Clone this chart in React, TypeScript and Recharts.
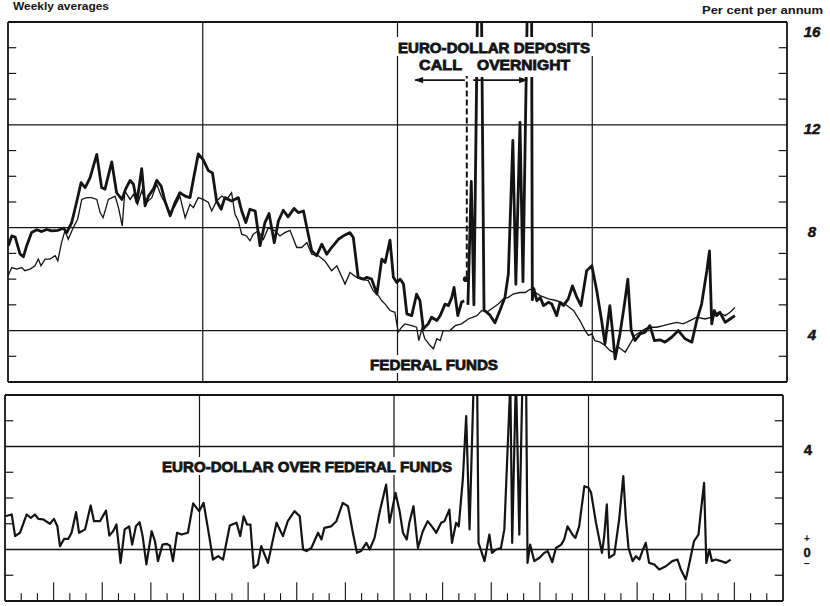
import React from 'react';
import { LineChart, Line, XAxis, YAxis, ReferenceLine, ReferenceDot } from 'recharts';

// x = week number from the start of the chart (4 years = 208 weeks), y = per cent per annum
const euroCall: [number, number][] = [
  [0.1, 7.3], [1.0, 7.68], [1.9, 7.64], [3.2, 6.98], [4.1, 6.87], [5.0, 7.3], [6.3, 7.81], [7.7, 7.92],
  [9.0, 7.85], [10.3, 7.93], [11.7, 7.88], [13.4, 7.9], [14.8, 7.98], [15.7, 7.81], [17.0, 8.2], [18.3, 8.98],
  [19.5, 9.75], [20.6, 9.56], [21.9, 9.94], [23.7, 10.85], [25.0, 9.56], [25.9, 9.5], [27.7, 10.56], [29.0, 9.36],
  [30.4, 9.1], [31.4, 9.5], [32.6, 9.84], [33.5, 9.69], [34.4, 8.98], [35.7, 10.3], [36.6, 8.85], [37.5, 9.23],
  [38.8, 9.5], [39.7, 9.84], [40.9, 9.62], [41.9, 9.04], [43.3, 8.46], [44.6, 8.98], [45.9, 9.36], [47.3, 9.23],
  [48.6, 9.17], [49.5, 9.88], [50.8, 10.87], [52.1, 10.65], [53.5, 10.22], [54.6, 10.13], [55.7, 9.04], [56.9, 8.72],
  [57.9, 9.17], [59.7, 9.04], [61.5, 9.17], [62.4, 8.65], [63.5, 8.2], [64.6, 8.72], [66.0, 8.65], [67.3, 7.3],
  [68.6, 8.2], [69.7, 8.55], [71.1, 7.42], [72.2, 8.26], [73.5, 8.68], [74.8, 8.42], [76.4, 8.75], [77.5, 8.59],
  [78.9, 8.65], [79.8, 8.0], [81.1, 7.1], [82.4, 6.91], [83.8, 7.36], [85.1, 6.97], [86.4, 7.23], [88.2, 7.55],
  [90.0, 7.72], [91.3, 7.81], [92.2, 7.62], [93.5, 6.07], [94.9, 6.0], [95.8, 6.07], [97.1, 6.0], [98.5, 5.42],
  [99.8, 6.78], [100.7, 6.65], [102.0, 7.52], [102.9, 6.07], [103.8, 5.87], [104.7, 6.0], [105.6, 5.81], [106.5, 4.65],
  [107.8, 4.58], [109.1, 5.42], [110.0, 5.16], [110.9, 4.07], [112.2, 4.26], [113.1, 4.52], [114.5, 4.39], [115.4, 4.58],
  [116.7, 5.03], [117.6, 4.97], [118.5, 5.29], [119.1, 5.68], [120.1, 4.58], [121.1, 5.1], [121.8, 5.16],
];

const euroOvernight: [number, number][] = [
  [122.8, 5.0], [123.7, 9.8], [124.4, 5.0], [125.4, 17], [126.4, 17], [127.1, 4.8], [128.7, 4.6], [130.0, 4.3],
  [131.4, 4.8], [132.7, 5.3], [133.6, 6.2], [134.8, 11.4], [135.6, 5.8], [136.7, 12.1], [137.5, 5.9], [138.7, 17],
  [139.8, 17], [140.0, 5.2], [140.4, 5.63], [141.2, 5.16], [142.1, 5.29], [143.0, 4.97], [144.3, 5.1], [145.2, 5.03],
  [146.5, 4.58], [147.4, 5.1], [148.3, 4.97], [149.6, 5.23], [150.7, 5.74], [151.9, 5.29], [153.0, 4.97], [154.5, 6.33],
  [155.9, 6.52], [157.2, 5.55], [158.5, 4.39], [159.4, 3.48], [160.7, 4.97], [161.4, 4.0], [162.1, 2.9], [163.4, 3.87],
  [164.6, 5.03], [165.5, 6.0], [166.4, 4.0], [167.4, 3.61], [168.8, 3.87], [170.1, 3.94], [171.4, 4.19], [172.6, 3.61],
  [174.1, 3.64], [175.4, 3.55], [177.2, 3.74], [179.0, 4.0], [180.8, 3.68], [182.6, 3.55], [183.9, 4.39], [185.2, 5.03],
  [186.6, 6.33], [187.3, 7.1], [187.9, 4.26], [188.6, 4.78], [189.2, 4.58], [190.1, 4.71], [191.5, 4.32], [192.8, 4.45],
  [194.1, 4.58],
];

const federalFunds: [number, number][] = [
  [0, 6.13], [1.0, 6.45], [2.3, 6.39], [3.7, 6.45], [4.5, 6.33], [5.9, 6.39], [7.2, 6.52], [8.1, 6.78],
  [8.8, 6.52], [9.9, 6.78], [11.2, 6.78], [12.6, 6.91], [13.3, 6.71], [14.3, 7.42], [15.2, 7.88], [16.1, 7.55],
  [17.4, 8.0], [18.6, 8.33], [19.7, 9.1], [21.0, 9.17], [22.3, 9.17], [23.7, 9.1], [24.6, 8.59], [25.4, 8.39],
  [26.8, 9.1], [28.6, 9.23], [29.5, 8.78], [30.5, 8.07], [31.2, 9.43], [32.6, 9.1], [33.5, 9.3], [34.6, 8.91],
  [35.7, 9.43], [37.0, 8.98], [38.4, 9.17], [39.7, 9.69], [40.9, 9.23], [41.9, 8.98], [43.3, 8.59], [44.6, 8.85],
  [45.9, 9.23], [47.3, 8.39], [48.6, 8.91], [49.5, 8.78], [50.8, 9.17], [52.1, 9.1], [53.5, 8.98], [54.4, 8.65],
  [55.7, 9.04], [57.1, 9.23], [58.4, 9.1], [59.7, 9.36], [60.6, 8.52], [61.5, 8.26], [62.4, 7.75], [63.7, 7.68],
  [64.6, 7.49], [65.5, 7.75], [66.8, 7.88], [68.2, 7.55], [69.5, 8.0], [71.3, 7.88], [72.6, 7.68], [73.9, 7.81],
  [75.3, 7.9], [77.1, 7.23], [78.4, 7.23], [79.8, 7.42], [81.1, 6.97], [82.9, 6.91], [84.6, 6.71], [86.4, 6.33],
  [87.8, 6.52], [90.0, 5.81], [91.3, 6.26], [93.1, 6.07], [94.4, 6.0], [96.2, 5.94], [97.5, 5.55], [98.9, 5.36],
  [99.8, 5.16], [100.7, 5.03], [102.0, 4.78], [103.3, 4.71], [104.2, 3.94], [105.1, 4.13], [106.0, 4.26], [107.8, 4.19],
  [109.1, 4.13], [109.7, 3.61], [110.5, 4.07], [111.3, 3.68], [112.7, 3.42], [113.6, 3.29], [114.5, 3.68], [115.4, 3.61],
  [116.2, 4.0], [118.0, 4.0], [119.4, 4.19], [121.1, 4.26], [122.9, 4.45], [125.2, 4.58], [126.5, 4.78], [127.8, 4.71],
  [129.6, 4.9], [130.9, 5.03], [132.3, 5.23], [133.6, 5.29], [134.9, 5.42], [136.7, 5.48], [138.1, 5.48], [139.4, 5.61],
  [142.1, 5.36], [144.3, 5.23], [146.5, 5.16], [148.7, 5.03], [151.0, 4.78], [152.7, 4.39], [154.1, 4.0], [155.0, 3.81],
  [155.9, 3.87], [156.7, 3.61], [158.1, 3.55], [159.4, 3.42], [160.7, 3.23], [161.6, 3.16], [163.0, 3.36], [164.8, 3.16],
  [166.1, 3.48], [167.4, 3.81], [168.8, 3.94], [170.1, 4.07], [171.4, 4.13], [173.2, 4.13], [175.0, 4.19], [176.8, 4.26],
  [178.6, 4.32], [180.3, 4.26], [182.1, 4.39], [183.9, 4.52], [186.1, 4.45], [187.9, 4.52], [189.7, 4.71], [191.5, 4.58],
  [192.8, 4.71], [194.1, 4.9],
];

const euroOverFed: [number, number][] = [
  [0, 1.29], [1.8, 1.36], [2.7, 0.52], [4.0, 0.65], [5.8, 1.36], [6.9, 1.23], [8.0, 1.36], [8.9, 1.19],
  [10.2, 1.17], [12.0, 1.0], [13.1, 1.19], [14.0, 0.9], [14.7, 0.13], [15.8, 0.41], [16.9, 0.41], [17.8, 0.65],
  [19.0, 1.45], [19.8, 0.65], [21.4, 0.78], [22.9, 1.71], [23.8, 1.1], [25.4, 1.1], [27.0, 1.51], [27.9, 0.54],
  [28.9, 0.71], [29.8, 0.97], [30.9, -0.52], [32.0, 0.78], [33.2, 0.9], [34.0, 0.19], [35.0, 0.9], [36.0, 1.06],
  [36.8, 0.52], [37.8, -0.58], [39.2, 0.71], [40.1, 0.32], [40.9, -0.45], [42.1, 0.19], [43.2, 0.22], [44.1, 0.15],
  [44.9, -0.45], [46.0, 0.65], [47.2, 0.58], [48.9, 0.65], [50.3, 1.79], [51.9, 1.49], [53.1, 1.81], [54.6, 0.52],
  [55.6, -0.39], [57.0, -0.26], [58.3, -0.39], [60.1, 0.93], [61.9, 1.04], [62.9, 0.52], [63.8, 1.29], [64.7, 0.97],
  [65.6, 0.97], [66.5, -0.71], [67.6, -0.58], [68.5, 0.13], [70.3, -0.52], [72.6, 1.04], [74.3, 0.52], [75.6, 1.1],
  [77.4, 1.49], [78.8, 1.29], [79.7, 0], [80.6, -0.06], [81.9, 0.06], [83.7, 0.65], [84.6, 0.39], [85.4, 0.84],
  [87.2, 0.9], [88.6, 1.1], [90.3, 1.81], [91.7, 1.68], [93.0, 0.65], [94.1, -0.13], [95.2, -0.06], [96.6, 0.26],
  [97.5, 0], [98.8, 0.45], [100.1, 1.42], [101.9, 2.52], [102.8, 1.04], [104.4, 2.2], [105.5, 1.49], [106.4, 0.65],
  [107.4, 0.39], [108.1, 1.04], [109.2, 1.68], [110.4, 0.06], [111.7, 0.71], [113.0, 1.1], [114.4, 0.84], [115.3, 0.65],
  [116.6, 1.04], [117.5, 1.1], [118.8, 1.55], [119.5, 0.26], [120.6, 1.04], [121.3, 0.9], [122.4, 2.72], [123.3, 5.18],
  [124.2, 0.78], [125.4, 7], [126.2, 7], [126.6, 0.26], [128.2, -0.45], [129.5, 0.58], [130.2, -0.13], [131.3, 0],
  [132.6, 0.06], [133.5, 0.78], [134.4, 4.0], [135.1, 6.5], [135.6, 0.26], [136.6, 6.8], [137.5, 0.58], [138.4, 7],
  [139.3, 7], [139.7, -0.52], [140.4, 0.19], [141.5, -0.45], [142.9, -0.32], [144.2, -0.13], [145.1, -0.06], [146.3, -0.49],
  [147.3, 0.06], [148.7, 0.19], [149.5, 0.39], [150.4, 0.9], [151.7, 0.58], [152.5, 0.45], [153.5, 0.9], [154.9, 2.46],
  [156.0, 2.4], [156.7, 2.2], [158.0, 1.04], [159.6, -0.13], [160.2, 0.52], [160.9, 1.75], [161.5, -0.32], [162.9, -0.19],
  [164.2, 1.17], [165.3, 2.85], [166.0, 1.17], [166.7, 0.06], [167.8, -0.45], [168.7, -0.26], [169.6, -0.39], [170.4, -0.06],
  [171.3, 0.26], [172.2, -0.52], [173.6, -0.58], [174.9, -0.78], [176.7, -0.65], [178.4, -0.45], [179.8, -0.39], [180.7, -0.78],
  [182.0, -1.17], [182.9, -0.58], [184.2, 0.32], [185.4, 0.58], [186.0, 1.42], [186.9, 2.59], [187.5, -0.52], [188.3, 0],
  [189.0, -0.45], [190.0, -0.39], [191.4, -0.45], [192.7, -0.52], [194.0, -0.39],
];

const topLabelTicks = [4, 8, 12, 16];
const topGridValues = [4, 8, 12];
const topMinorTicks = [3, 5, 6, 7, 9, 10, 11, 13, 14, 15];
const bottomLabelTicks = [0, 4];
const bottomGridValues = [0, 4];
const bottomMinorTicks = [-1, 1, 2, 3, 5];
const yearBoundaryWeeks = [52, 104, 156];
const monthsInChart = 48;
const TOTAL_WEEKS = 208;
const callSwitchWeek = 122.5;

const rows = (pts: [number, number][]) => pts.map(([w, v]) => ({ w, v }));

const INK = '#141414';
const FONT = '"Liberation Sans", Arial, Helvetica, sans-serif';

const TopTick = (props: any) => {
  const { x, y, payload } = props;
  const v = payload.value;
  return (
    <text x={x + 25} y={y + (v === 16 ? 15 : 9.5)} textAnchor="middle" fontFamily={FONT}
      fontSize={15} fontWeight={700} fill={INK} stroke={INK} strokeWidth={0.5} fontStyle="italic">
      {v}
    </text>
  );
};

const BottomTick = (props: any) => {
  const { x, y, payload } = props;
  const v = payload.value;
  if (v === 0) {
    return (
      <g fontFamily={FONT} fontWeight={700} fill={INK} textAnchor="middle">
        <text x={x + 24} y={y - 7.5} fontSize={10}>+</text>
        <text x={x + 24} y={y + 7} fontSize={13} stroke={INK} strokeWidth={0.4}>0</text>
        <text x={x + 24} y={y + 17.5} fontSize={10}>−</text>
      </g>
    );
  }
  return (
    <text x={x + 25} y={y + 8} textAnchor="middle" fontFamily={FONT} fontSize={15} fontWeight={700}
      fill={INK} stroke={INK} strokeWidth={0.5}>
      {v}
    </text>
  );
};

const edgeTickLen = 2.2; // weeks

const LeftArrowHead = (p: any) => (
  <polygon points={`${p.cx - 1},${p.cy} ${p.cx + 8},${p.cy - 3.2} ${p.cx + 8},${p.cy + 3.2}`} fill={INK} />
);
const RightArrowHead = (p: any) => (
  <polygon points={`${p.cx + 1},${p.cy} ${p.cx - 8},${p.cy - 3.2} ${p.cx - 8},${p.cy + 3.2}`} fill={INK} />
);

const bigLabel = {
  fontFamily: FONT,
  fontSize: 15,
  fontWeight: 700,
  fill: INK,
  stroke: INK,
  strokeWidth: 0.8,
  lengthAdjust: 'spacingAndGlyphs' as const,
};

export default function App() {
  const monthTickWeeks = Array.from({ length: monthsInChart - 1 }, (_, i) => i + 1)
    .filter((m) => m % 12 !== 0)
    .map((m) => ({ w: (m * TOTAL_WEEKS) / monthsInChart, tall: m % 3 === 0 }));

  return (
    <div style={{ position: 'absolute', left: 0, top: 0, width: 830, height: 606, background: '#fff' }}>
      {/* Upper panel */}
      <div style={{ position: 'absolute', left: 0, top: 0 }}>
        <LineChart width={830} height={390} margin={{ top: 22, right: 3, bottom: 8, left: 8 }}>
          <XAxis type="number" dataKey="w" domain={[0, TOTAL_WEEKS]} hide allowDataOverflow />
          <YAxis orientation="right" type="number" domain={[2, 16]} ticks={topLabelTicks} width={40}
            axisLine={false} tickLine={false} tickSize={0} tickMargin={0} tick={<TopTick />} allowDataOverflow
            interval={0} />
          {topGridValues.map((v) => (
            <ReferenceLine key={`hg${v}`} y={v} stroke={INK} strokeWidth={1.2} />
          ))}
          {yearBoundaryWeeks.map((w) => (
            <ReferenceLine key={`vg${w}`} x={w} stroke={INK} strokeWidth={1.2} />
          ))}
          <ReferenceLine y={16} stroke={INK} strokeWidth={1.8} />
          <ReferenceLine y={2} stroke={INK} strokeWidth={1.8} />
          <ReferenceLine x={0} stroke={INK} strokeWidth={1.8} />
          <ReferenceLine x={TOTAL_WEEKS} stroke={INK} strokeWidth={1.8} />
          {topMinorTicks.map((v) => (
            <ReferenceLine key={`tl${v}`} segment={[{ x: 0, y: v }, { x: edgeTickLen, y: v }]} stroke={INK} strokeWidth={1.2} />
          ))}
          {topMinorTicks.map((v) => (
            <ReferenceLine key={`tr${v}`} segment={[{ x: TOTAL_WEEKS - edgeTickLen, y: v }, { x: TOTAL_WEEKS, y: v }]} stroke={INK} strokeWidth={1.2} />
          ))}
          <ReferenceLine segment={[{ x: callSwitchWeek, y: 6.1 }, { x: callSwitchWeek, y: 13.9 }]}
            stroke={INK} strokeWidth={2} strokeDasharray="6 3" />
          <ReferenceDot x={callSwitchWeek - 0.3} y={6.0} r={2.8} fill={INK} stroke="none" />
          <ReferenceLine segment={[{ x: 108.7, y: 13.74 }, { x: 122.0, y: 13.74 }]} stroke={INK} strokeWidth={1.6} />
          <ReferenceLine segment={[{ x: 124.2, y: 13.74 }, { x: 138.6, y: 13.74 }]} stroke={INK} strokeWidth={1.6} />
          <ReferenceDot x={108.7} y={13.74} r={3} shape={<LeftArrowHead />} />
          <ReferenceDot x={138.6} y={13.74} r={3} shape={<RightArrowHead />} />
          <Line data={rows(federalFunds)} dataKey="v" type="linear" stroke={INK} strokeWidth={1.3}
            dot={false} activeDot={false} isAnimationActive={false} />
          <Line data={rows(euroCall)} dataKey="v" type="linear" stroke={INK} strokeWidth={2.8}
            dot={false} activeDot={false} isAnimationActive={false} strokeLinejoin="round" />
          <Line data={rows(euroOvernight)} dataKey="v" type="linear" stroke={INK} strokeWidth={2.8}
            dot={false} activeDot={false} isAnimationActive={false} strokeLinejoin="round" />
        </LineChart>
      </div>

      {/* Lower panel */}
      <div style={{ position: 'absolute', left: 0, top: 388 }}>
        <LineChart width={830} height={218} margin={{ top: 7, right: 7, bottom: 5, left: 5 }}>
          <XAxis type="number" dataKey="w" domain={[0, TOTAL_WEEKS]} hide allowDataOverflow />
          <YAxis orientation="right" type="number" domain={[-2, 6]} ticks={bottomLabelTicks} width={40}
            axisLine={false} tickLine={false} tickSize={0} tickMargin={0} tick={<BottomTick />} allowDataOverflow
            interval={0} />
          {bottomGridValues.map((v) => (
            <ReferenceLine key={`bhg${v}`} y={v} stroke={INK} strokeWidth={1.3} />
          ))}
          {yearBoundaryWeeks.map((w) => (
            <ReferenceLine key={`bvg${w}`} x={w} stroke={INK} strokeWidth={1.2} />
          ))}
          <ReferenceLine y={6} stroke={INK} strokeWidth={1.8} />
          <ReferenceLine y={-2} stroke={INK} strokeWidth={1.8} />
          <ReferenceLine x={0} stroke={INK} strokeWidth={1.8} />
          <ReferenceLine x={TOTAL_WEEKS} stroke={INK} strokeWidth={1.8} />
          {bottomMinorTicks.map((v) => (
            <ReferenceLine key={`bl${v}`} segment={[{ x: 0, y: v }, { x: edgeTickLen, y: v }]} stroke={INK} strokeWidth={1.2} />
          ))}
          {bottomMinorTicks.map((v) => (
            <ReferenceLine key={`br${v}`} segment={[{ x: TOTAL_WEEKS - edgeTickLen, y: v }, { x: TOTAL_WEEKS, y: v }]} stroke={INK} strokeWidth={1.2} />
          ))}
          {monthTickWeeks.map((t) => (
            <ReferenceLine key={`mt${t.w}`} segment={[{ x: t.w, y: -2 }, { x: t.w, y: t.tall ? -1.27 : -1.7 }]}
              stroke={INK} strokeWidth={1.1} />
          ))}
          <Line data={rows(euroOverFed)} dataKey="v" type="linear" stroke={INK} strokeWidth={2.2}
            dot={false} activeDot={false} isAnimationActive={false} strokeLinejoin="round" />
        </LineChart>
      </div>

      {/* Titles and in-chart labels */}
      <svg width={830} height={606} style={{ position: 'absolute', left: 0, top: 0, pointerEvents: 'none' }}>
        <text x={13} y={10} fontFamily={FONT} fontSize={10.5} fontWeight={700} fill={INK}
          textLength={96} lengthAdjust="spacingAndGlyphs">Weekly averages</text>
        <text x={702} y={14} fontFamily={FONT} fontSize={10.5} fontWeight={700} fill={INK}
          textLength={121} lengthAdjust="spacingAndGlyphs">Per cent per annum</text>

        <rect x={396} y={37} width={198} height={19} fill="#fff" />
        <text x={398} y={53} {...bigLabel} textLength={192}>EURO-DOLLAR DEPOSITS</text>
        <rect x={416} y={56} width={49} height={17} fill="#fff" />
        <text x={419} y={70} {...bigLabel} textLength={43}>CALL</text>
        <rect x={474} y={56} width={100} height={21} fill="#fff" />
        <text x={477} y={70} {...bigLabel} textLength={93}>OVERNIGHT</text>

        <rect x={367} y={355} width={134} height={18} fill="#fff" />
        <text x={370} y={370} {...bigLabel} textLength={128}>FEDERAL FUNDS</text>

        <rect x={159} y={457} width={296} height={18} fill="#fff" />
        <text x={162} y={472} {...bigLabel} textLength={290}>EURO-DOLLAR OVER FEDERAL FUNDS</text>
      </svg>
    </div>
  );
}
